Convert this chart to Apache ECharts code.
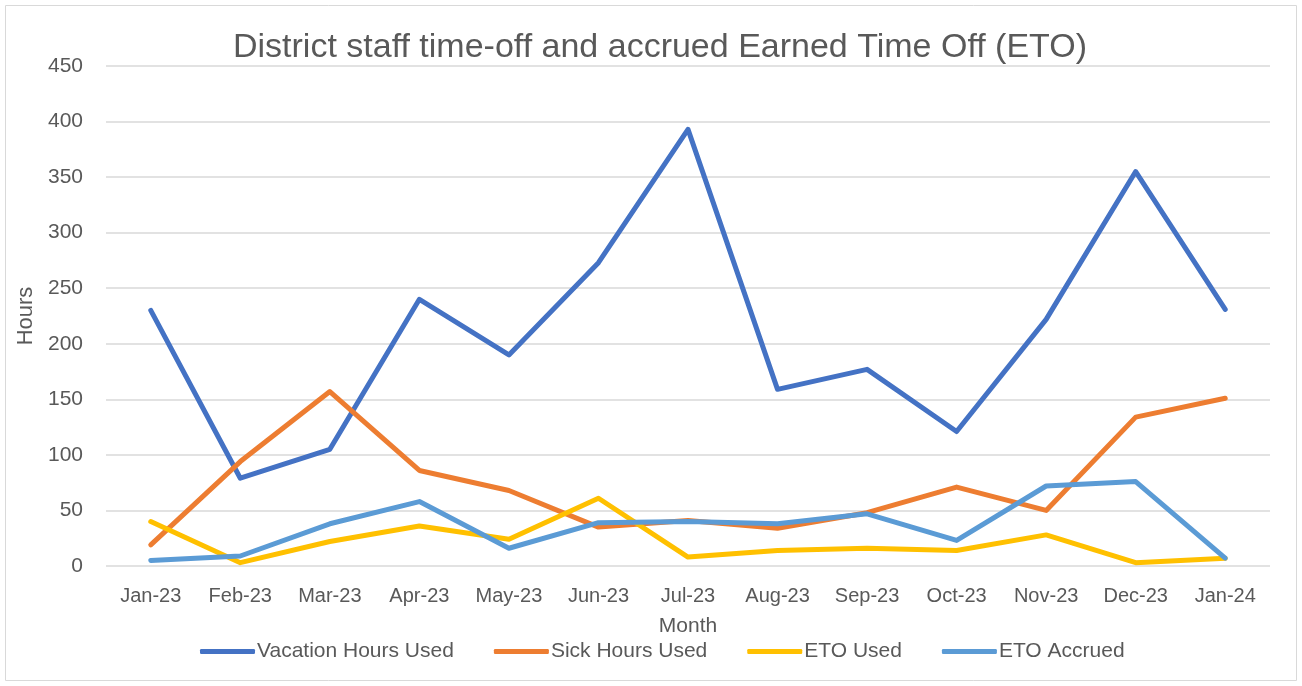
<!DOCTYPE html>
<html>
<head>
<meta charset="utf-8">
<script src="https://cdn.jsdelivr.net/npm/echarts@6/dist/echarts.min.js"></script>
<style>
html,body{margin:0;padding:0;background:#fff;}
#c{width:1302px;height:686px;}
</style>
</head>
<body>
<div id="c"></div>
<script>
const months = ['Jan-23','Feb-23','Mar-23','Apr-23','May-23','Jun-23','Jul-23','Aug-23','Sep-23','Oct-23','Nov-23','Dec-23','Jan-24'];
const vacationHoursUsed = [230, 79, 105, 240, 190, 273, 393, 159, 177, 121, 222, 355, 231];
const sickHoursUsed = [19, 94, 157, 86, 68, 35, 41, 34, 48, 71, 50, 134, 151];
const etoUsed = [40, 3, 22, 36, 24, 61, 8, 14, 16, 14, 28, 3, 7];
const etoAccrued = [5, 9, 38, 58, 16, 39, 40, 38, 47, 23, 72, 76, 7];
const yTicks = { min: 0, max: 450, interval: 50 };

const FONT = "'Liberation Sans', Arial, sans-serif";
const TXT = '#595959';
const chart = echarts.init(document.getElementById('c'), null, { renderer: 'canvas' });

function mk(name, data, color) {
  return {
    name, type: 'line', data, showSymbol: false, symbol: 'none',
    lineStyle: { color, width: 5, cap: 'round', join: 'round' },
    itemStyle: { color },
    emphasis: { disabled: true },
    animation: false
  };
}

chart.setOption({
  animation: false,
  textStyle: { fontFamily: FONT },
  title: {
    text: 'District staff time-off and accrued Earned Time Off (ETO)',
    left: 655, top: 26, textAlign: 'center',
    textStyle: { fontFamily: FONT, fontSize: 34, fontWeight: 'normal', color: TXT }
  },
  graphic: [{
    type: 'rect', shape: { x: 5.5, y: 5.5, width: 1291, height: 675 },
    style: { fill: 'none', stroke: '#d9d9d9', lineWidth: 1 }, silent: true, z: -1
  }],
  grid: { left: 106, top: 66, width: 1164, height: 500 },
  legend: {
    data: ['Vacation Hours Used', 'Sick Hours Used', 'ETO Used', 'ETO Accrued'],
    left: 195, top: 636, itemWidth: 55, itemHeight: 5, itemGap: 40,
    icon: 'roundRect',
    textStyle: { fontFamily: FONT, fontSize: 21, color: TXT, padding: [0, 0, 0, -3] }
  },
  xAxis: {
    type: 'category', data: months, boundaryGap: true,
    name: 'Month', nameLocation: 'middle', nameGap: 50,
    nameTextStyle: { fontFamily: FONT, fontSize: 21, color: TXT },
    axisLine: { show: false }, axisTick: { show: false },
    axisLabel: { fontFamily: FONT, fontSize: 20, color: TXT, margin: 20, interval: 0 }
  },
  yAxis: {
    type: 'value', min: yTicks.min, max: yTicks.max, interval: yTicks.interval,
    name: 'Hours', nameLocation: 'middle', nameGap: 68, nameRotate: 90,
    nameTextStyle: { fontFamily: FONT, fontSize: 22, color: TXT },
    axisLine: { show: false }, axisTick: { show: false },
    axisLabel: { fontFamily: FONT, fontSize: 21, color: TXT, margin: 23 },
    splitLine: { lineStyle: { color: '#d9d9d9', width: 1.5 } }
  },
  series: [
    mk('Vacation Hours Used', vacationHoursUsed, '#4472C4'),
    mk('Sick Hours Used', sickHoursUsed, '#ED7D31'),
    mk('ETO Used', etoUsed, '#FFC000'),
    mk('ETO Accrued', etoAccrued, '#5B9BD5')
  ]
});
</script>
</body>
</html>
